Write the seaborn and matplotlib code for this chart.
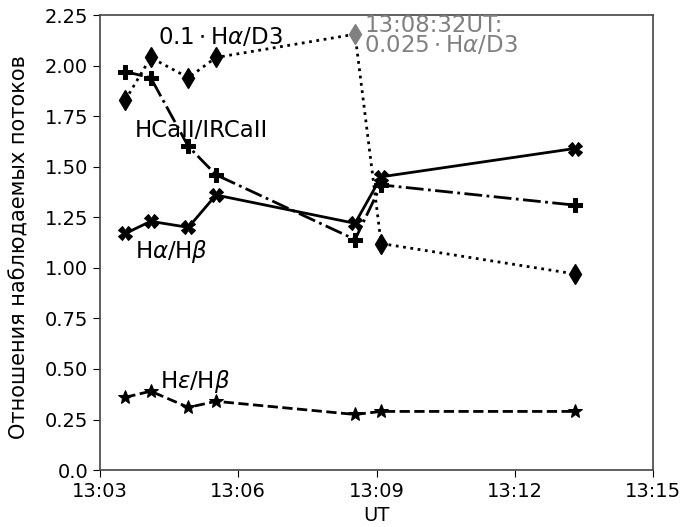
import matplotlib
matplotlib.use("Agg")
import matplotlib.pyplot as plt
import matplotlib.dates as mdates
import numpy as np
import pandas as pd
import seaborn as sns

# Observation times (UT)
times = ["13:03:33", "13:04:06", "13:04:55", "13:05:31", "13:08:32", "13:09:06", "13:13:18"]

# Observed flux ratios
ha_hb = [1.17, 1.23, 1.20, 1.36, 1.22, 1.45, 1.59]
caii_ratio = [1.97, 1.94, 1.60, 1.46, 1.14, 1.41, 1.31]
ha_d3 = [1.83, 2.04, 1.94, 2.04, 2.155, 1.12, 0.97]   # 0.1*Ha/D3 (0.025* at 13:08:32)
he_hb = [0.36, 0.39, 0.31, 0.34, 0.275, 0.29, 0.29]

ytick_vals = [0.0, 0.25, 0.5, 0.75, 1.0, 1.25, 1.5, 1.75, 2.0, 2.25]
ytick_labels = ["0.0", "0.25", "0.50", "0.75", "1.00", "1.25", "1.50", "1.75", "2.00", "2.25"]

day = "2000-01-01 "
t = pd.to_datetime([day + s for s in times])
special = 4  # the 13:08:32 point scaled differently

sns.set_style("ticks", rc={"text.color": "black", "axes.labelcolor": "black",
                           "xtick.color": "black", "ytick.color": "black"})
plt.rcParams["font.family"] = ["DejaVu Sans"]

fig = plt.figure(figsize=(6.97, 5.27), dpi=100)
ax = fig.add_axes([0.1435, 0.108, 0.7935, 0.8635])

ms = 10
common = dict(color="k", markeredgecolor="k", markersize=ms, linewidth=2)

sns.lineplot(x=t, y=ha_hb, ax=ax, marker="X", linestyle="-", **common)
sns.lineplot(x=t, y=caii_ratio, ax=ax, marker="P", linestyle="-.", **common)
sns.lineplot(x=t, y=he_hb, ax=ax, marker="*", linestyle="--", **common)

# Ha/D3: dotted line, black diamonds except the rescaled grey one
sns.lineplot(x=t, y=ha_d3, ax=ax, color="k", linestyle=":", linewidth=2)
mask = np.arange(len(times)) != special
ax.plot(t[mask], np.array(ha_d3)[mask], linestyle="none", marker="d",
        color="k", markeredgecolor="k", markersize=ms, zorder=3)
ax.plot(t[special:special + 1], [ha_d3[special]], linestyle="none", marker="d",
        color="grey", markeredgecolor="grey", markersize=ms, zorder=3)

fs = 16.5
ax.text(pd.Timestamp(day + "13:04:15"), 2.14, r"$0.1 \cdot$H$\alpha$/D3",
        fontsize=fs, va="center", ha="left")
ax.text(pd.Timestamp(day + "13:03:45"), 1.677, "HCaII/IRCaII",
        fontsize=fs, va="center", ha="left")
ax.text(pd.Timestamp(day + "13:03:46"), 1.08, r"H$\alpha$/H$\beta$",
        fontsize=fs, va="center", ha="left")
ax.text(pd.Timestamp(day + "13:04:18"), 0.437, r"H$\varepsilon$/H$\beta$",
        fontsize=fs, va="center", ha="left")
ax.text(pd.Timestamp(day + "13:08:44"), 2.148, "13:08:32UT:\n" + r"$0.025 \cdot$H$\alpha$/D3",
        fontsize=fs, va="center", ha="left", color="grey", linespacing=0.85)

ax.set_xlim(pd.Timestamp(day + "13:03:00"), pd.Timestamp(day + "13:15:00"))
ax.set_ylim(0, 2.25)
ax.xaxis.set_major_locator(mdates.MinuteLocator(byminute=[3, 6, 9, 12, 15]))
ax.xaxis.set_major_formatter(mdates.DateFormatter("%H:%M"))
ax.set_yticks(ytick_vals)
ax.set_yticklabels(ytick_labels)
ax.tick_params(labelsize=14, color="k", length=5)
for sp in ax.spines.values():
    sp.set_color("#444444")
    sp.set_linewidth(1.2)

ax.set_xlabel("UT", fontsize=14)
ax.set_ylabel("Отношения наблюдаемых потоков", fontsize=15)
ax.yaxis.set_label_coords(-0.128, 0.49)

fig.savefig("out.png", dpi=100)
